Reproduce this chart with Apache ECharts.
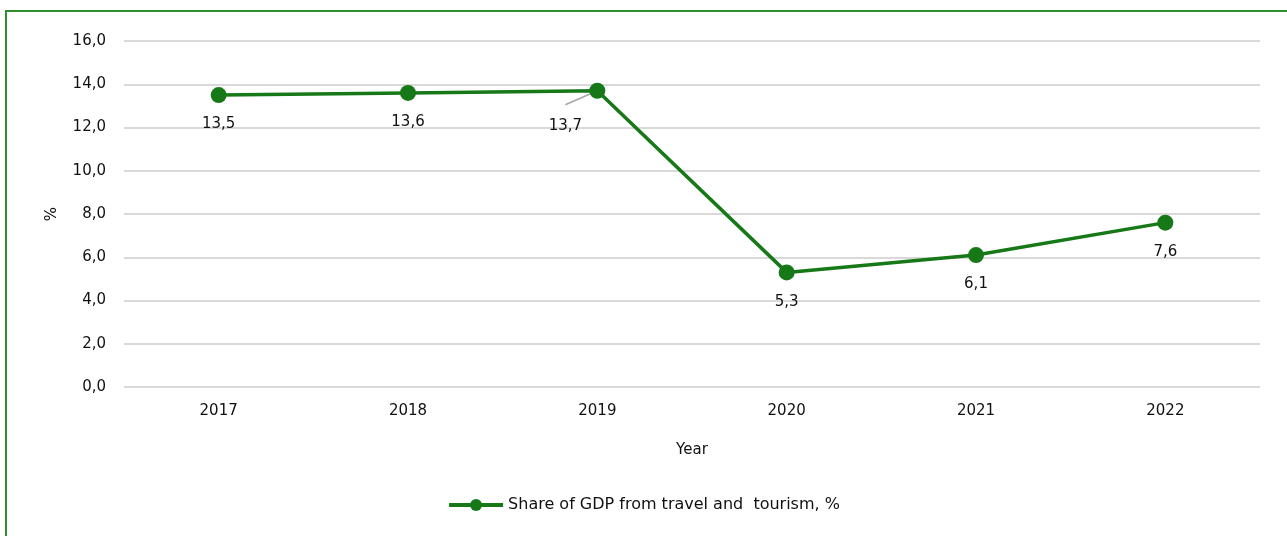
<!DOCTYPE html>
<html>
<head>
<meta charset="utf-8">
<script src="https://cdn.jsdelivr.net/npm/echarts@6/dist/echarts.min.js"></script>
<style>
  html, body { margin: 0; padding: 0; background: #fff; }
  #chart { width: 1287px; height: 536px; }
</style>
</head>
<body>
<div id="chart"></div>
<script>
const years = ['2017', '2018', '2019', '2020', '2021', '2022']
const gdpShare = [13.5, 13.6, 13.7, 5.3, 6.1, 7.6]
const seriesName = 'Share of GDP from travel and  tourism, %'

const green = '#177817'
const font = 'DejaVu Sans'
const fmt = v => Number(v).toFixed(1).replace('.', ',')
const movedIdx = 2 // the 2019 label sits off to the left with a leader line

const chart = echarts.init(document.getElementById('chart'))

chart.setOption({
  backgroundColor: '#fff',
  animation: false,
  textStyle: { fontFamily: font },
  grid: { left: 124, right: 27, top: 41, bottom: 149 },
  legend: {
    bottom: 18,
    left: 'center',
    itemWidth: 54,
    itemHeight: 15,
    itemGap: 6,
    lineStyle: { width: 4 },
    textStyle: { color: '#111', fontSize: 16, fontFamily: font },
    data: [seriesName],
  },
  xAxis: {
    type: 'category',
    data: years,
    name: 'Year',
    nameLocation: 'middle',
    nameGap: 56,
    nameTextStyle: { color: '#111', fontSize: 15 },
    axisLine: { show: false },
    axisTick: { show: false },
    axisLabel: { color: '#111', fontSize: 15, margin: 17 },
  },
  yAxis: {
    type: 'value',
    min: 0,
    max: 16,
    interval: 2,
    name: '%',
    nameLocation: 'middle',
    nameGap: 64,
    nameRotate: 90,
    nameTextStyle: { color: '#111', fontSize: 15 },
    axisLine: { show: false },
    axisTick: { show: false },
    axisLabel: { color: '#111', fontSize: 15, margin: 18, formatter: fmt },
    splitLine: { lineStyle: { color: '#d9d9d9', width: 2 } },
  },
  series: [{
    name: seriesName,
    type: 'line',
    data: gdpShare,
    z: 3,
    symbol: 'circle',
    symbolSize: 16,
    lineStyle: { color: green, width: 3.5 },
    itemStyle: { color: green },
    label: {
      show: true,
      position: 'bottom',
      distance: 14,
      color: '#111',
      fontSize: 15,
      formatter: p => fmt(p.value),
    },
    labelLayout: p => (p.dataIndex === movedIdx ? { dx: -32, dy: 6 } : {}),
  }],
})

// frame + leader line for the moved label, placed through the chart's own scales
const pt = chart.convertToPixel({ gridIndex: 0 }, [movedIdx, gdpShare[movedIdx]])
chart.setOption({
  graphic: [
    {
      type: 'rect',
      shape: { x: 6, y: 11, width: 1400, height: 700 },
      style: { fill: 'none', stroke: '#2f8f2f', lineWidth: 2 },
      silent: true,
    },
    {
      type: 'line',
      z: 1,
      shape: { x1: pt[0], y1: pt[1], x2: pt[0] - 32, y2: pt[1] + 14 },
      style: { stroke: '#a6a6a6', lineWidth: 1.5 },
      silent: true,
    },
  ],
})
</script>
</body>
</html>
